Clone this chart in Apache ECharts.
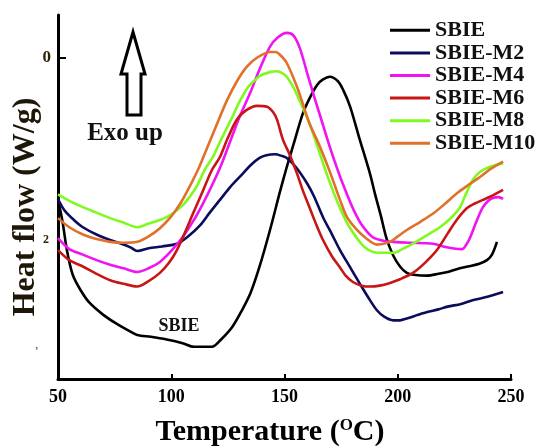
<!DOCTYPE html>
<html>
<head>
<meta charset="utf-8">
<script src="https://cdn.jsdelivr.net/npm/echarts@6/dist/echarts.min.js"></script>
<style>
  html, body { margin: 0; padding: 0; background: #fff; }
  #chart { width: 541px; height: 446px; }
</style>
</head>
<body>
<div id="chart"></div>
<script>
// DSC curves, [temperature (C), heat flow (W/g)]
var sbie = [[50,1.55],[52,1.8],[54,2.12],[56.5,2.38],[60,2.55],[64,2.69],[70,2.82],[76,2.92],[81,2.99],[85,3.04],[91,3.06],[98,3.09],[105,3.13],[110,3.17],[118,3.17],[122,3.09],[127,2.95],[131,2.78],[135,2.58],[139,2.29],[143.6,1.89],[148,1.47],[151,1.2],[154,0.95],[158,0.62],[161,0.45],[164.4,0.3],[167,0.24],[170,0.21],[173.6,0.26],[176,0.36],[179,0.54],[183,0.88],[187.7,1.27],[190,1.5],[192.5,1.73],[195,1.98],[198,2.17],[201,2.29],[204,2.36],[207,2.38],[213,2.39],[218,2.37],[222,2.35],[226,2.32],[231,2.29],[236,2.26],[239.4,2.22],[241.6,2.16],[243.8,2.02]];
var sbieM2 = [[50,1.55],[53,1.68],[57,1.78],[61,1.86],[67,1.94],[73,2.0],[78,2.04],[82,2.08],[85,2.12],[90,2.09],[96,2.07],[102.5,2.04],[107,1.97],[112.7,1.84],[117,1.7],[121.5,1.56],[126,1.42],[131.7,1.27],[135,1.18],[139,1.1],[142,1.07],[145.8,1.06],[149,1.08],[151,1.1],[155,1.2],[160,1.38],[163,1.52],[167,1.75],[171,1.94],[174.5,2.11],[179,2.3],[183.3,2.48],[187,2.63],[190.8,2.77],[194,2.84],[198,2.88],[201,2.88],[204,2.86],[209,2.82],[213,2.79],[218,2.76],[222,2.73],[228,2.7],[233,2.66],[240,2.62],[246.5,2.57]];
var sbieM4 = [[50,1.98],[55,2.1],[61,2.16],[67,2.22],[73,2.27],[79,2.31],[85,2.35],[90,2.31],[95,2.24],[100,2.12],[105,1.97],[110,1.78],[114,1.6],[118,1.4],[122,1.18],[126,0.92],[130,0.66],[134.8,0.39],[139,0.13],[143.6,-0.12],[147,-0.22],[151,-0.27],[154,-0.24],[156.8,-0.1],[160,0.17],[163,0.42],[166,0.66],[170,0.98],[174,1.27],[177.6,1.5],[180.5,1.67],[184,1.83],[189,1.97],[194,2.01],[198,2.02],[205,2.03],[215.6,2.04],[220,2.07],[224,2.09],[228.4,2.1],[230.5,2.04],[232,1.97],[235,1.78],[237.6,1.64],[240,1.57],[242,1.54],[244.5,1.53],[246.5,1.55]];
var sbieM6 = [[50,2.11],[55,2.22],[61,2.29],[67,2.37],[73,2.44],[79,2.48],[85,2.51],[90,2.45],[95,2.36],[99,2.25],[102.5,2.11],[106,1.92],[109.6,1.71],[114,1.46],[118,1.23],[121.5,1.09],[125,0.88],[129,0.68],[133,0.58],[137.9,0.53],[142.3,0.54],[145,0.6],[146.7,0.68],[149.3,0.9],[152.4,1.07],[155.5,1.27],[158,1.45],[161,1.64],[164,1.83],[167,2.0],[171,2.18],[174.5,2.3],[177,2.39],[180.2,2.46],[184,2.5],[187.7,2.51],[192,2.5],[196.6,2.47],[201,2.43],[206.7,2.36],[212,2.25],[217.3,2.11],[222,1.93],[226,1.78],[230.6,1.65],[234,1.6],[237.6,1.56],[242,1.51],[246.5,1.45]];
var sbieM8 = [[50,1.5],[55,1.57],[61,1.64],[67,1.7],[73,1.76],[79,1.81],[85,1.86],[90,1.82],[95,1.78],[100,1.72],[105,1.62],[108,1.53],[111.5,1.4],[115,1.22],[118.4,1.09],[122,0.9],[127,0.65],[130.4,0.47],[134,0.32],[136,0.27],[139.2,0.2],[143.6,0.16],[146.7,0.15],[149,0.17],[151,0.21],[154,0.33],[156.8,0.48],[160,0.66],[162.6,0.83],[165.7,1.06],[169,1.3],[172,1.5],[174.5,1.65],[178,1.83],[182,1.98],[185,2.07],[189,2.13],[193,2.14],[198,2.14],[202,2.1],[206.7,2.04],[212,1.96],[218.6,1.86],[223,1.77],[227.5,1.64],[230,1.5],[233.2,1.34],[236,1.26],[239.4,1.21],[243,1.18],[246.5,1.16]];
var sbieM10 = [[50,1.76],[55,1.86],[61,1.94],[67,1.99],[73,2.02],[79,2.03],[85,2.02],[90,1.96],[95,1.87],[100,1.74],[104,1.6],[108,1.42],[111.8,1.23],[115,1.04],[120,0.74],[124.6,0.47],[129,0.26],[133.4,0.1],[138,0.0],[143.6,-0.06],[146,-0.06],[148,-0.03],[151,0.06],[155.5,0.32],[158,0.5],[161,0.72],[165.7,0.98],[170,1.25],[174.5,1.56],[177.6,1.75],[182,1.89],[186,1.98],[190.8,2.05],[196.6,2.02],[200,1.96],[204,1.89],[210,1.8],[215.6,1.71],[221,1.6],[226,1.49],[231,1.4],[236.3,1.31],[241,1.22],[246.5,1.14]];

var seriesNames = ['SBIE', 'SBIE-M2', 'SBIE-M4', 'SBIE-M6', 'SBIE-M8', 'SBIE-M10'];
var seriesData = [sbie, sbieM2, sbieM4, sbieM6, sbieM8, sbieM10];
var colors = ['#000000', '#0c0c5c', '#f014f0', '#c81616', '#80fa1e', '#e0702a'];
var xTicks = [50, 100, 150, 200, 250];
var yLabelValues = [0, 2, 3.23];
var yLabelTexts = ['0', '2', "'"];

var serif = "'Liberation Serif', 'DejaVu Serif', serif";

var myChart = echarts.init(document.getElementById('chart'));

var series = [];
for (var i = 0; i < seriesNames.length; i++) {
  series.push({
    name: seriesNames[i],
    type: 'line',
    data: seriesData[i],
    symbol: 'none',
    smooth: 0.3,
    color: colors[i],
    lineStyle: { width: 2.6, color: colors[i] }
  });
}

var option = {
  animation: false,
  backgroundColor: '#fff',
  grid: { left: 58, right: 30, top: 15, bottom: 67 },
  legend: {
    orient: 'vertical',
    left: 390,
    top: 19,
    padding: 0,
    itemGap: 0,
    itemWidth: 40,
    itemHeight: 3,
    icon: 'rect',
    data: seriesNames,
    textStyle: {
      fontFamily: serif, fontWeight: 'bold', fontSize: 22,
      lineHeight: 22.6, color: '#111'
    }
  },
  xAxis: {
    type: 'value',
    position: 'bottom',
    min: 50,
    max: 250,
    interval: 50,
    axisLine: { onZero: false, lineStyle: { color: '#000', width: 3 } },
    axisTick: { inside: true, length: 5, lineStyle: { color: '#000', width: 2 } },
    axisLabel: {
      fontFamily: serif, fontWeight: 'bold', fontSize: 18, color: '#000', margin: 9,
      formatter: function (v) { return xTicks.indexOf(v) >= 0 ? String(v) : ''; }
    },
    splitLine: { show: false }
  },
  yAxis: {
    type: 'value',
    inverse: true,
    min: -0.466,
    max: 3.523,
    axisLine: { show: true, onZero: false, lineStyle: { color: '#000', width: 3 } },
    axisTick: { show: true, inside: true, length: 8, customValues: [0], lineStyle: { color: '#000', width: 2 } },
    axisLabel: {
      margin: 7,
      customValues: yLabelValues,
      formatter: function (v) {
        var k = yLabelValues.indexOf(v);
        if (k === 0) return '{a|' + yLabelTexts[0] + '}';
        if (k === 1) return '{b|' + yLabelTexts[1] + '}';
        if (k === 2) return '{c|' + yLabelTexts[2] + '}';
        return '';
      },
      rich: {
        a: { fontFamily: serif, fontWeight: 'bold', fontSize: 17, color: '#2e2408' },
        b: { fontFamily: serif, fontWeight: 'bold', fontSize: 12, color: '#2e2408', padding: [0, 2, 0, 0] },
        c: { fontFamily: serif, fontSize: 12, color: '#2e2408', padding: [0, 13, 0, 0] }
      }
    },
    splitLine: { show: false }
  },
  graphic: [
    {
      type: 'polygon',
      shape: { points: [[133, 32], [145, 74], [141, 74], [141, 115], [127, 115], [127, 74], [121, 74]] },
      style: { fill: '#fff', stroke: '#000', lineWidth: 3 }
    },
    {
      type: 'text',
      x: 125, y: 134,
      style: {
        text: 'Exo up', font: "bold 25px " + serif,
        fill: '#111', align: 'center', verticalAlign: 'middle'
      }
    },
    {
      type: 'text',
      x: 179, y: 326,
      style: {
        text: 'SBIE', font: "bold 18px " + serif,
        fill: '#111', align: 'center', verticalAlign: 'middle'
      }
    },
    {
      type: 'text',
      x: 26, y: 207,
      rotation: Math.PI / 2,
      style: {
        text: 'Heat flow (W/g)', font: "bold 32px " + serif,
        fill: '#1e1606', align: 'center', verticalAlign: 'middle'
      }
    },
    {
      type: 'text',
      x: 270, y: 432,
      style: {
        text: 'Temperature ({s|O}C)', font: "bold 30px " + serif,
        fill: '#000', align: 'center', verticalAlign: 'middle',
        rich: {
          s: { font: "bold 17px " + serif, fill: '#000', verticalAlign: 'top' }
        }
      }
    }
  ],
  series: series
};

myChart.setOption(option);
</script>
</body>
</html>
